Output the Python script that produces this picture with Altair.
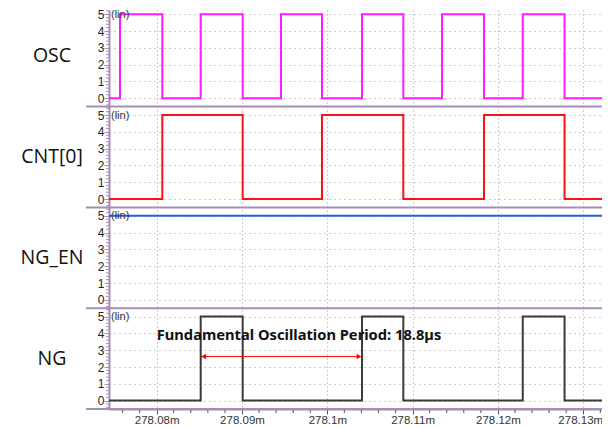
import altair as alt
import pandas as pd

# ---------------- data (time in microseconds, absolute) ----------------
t_start = 278074.41
t_end = 278132.2

signals = ["OSC", "CNT[0]", "NG_EN", "NG"]
colors = ["#ff1aff", "#ff1010", "#1f63d9", "#3a3a3a"]

osc_t = [278074.41, 278075.70, 278080.66, 278085.16, 278090.08, 278094.57, 278099.38,
         278104.07, 278108.91, 278113.45, 278118.37, 278122.91, 278127.81, 278132.32]
osc_v = [0, 5, 0, 5, 0, 5, 0, 5, 0, 5, 0, 5, 0, 5]

cnt_t = [278074.41, 278080.66, 278090.08, 278099.38, 278108.91, 278118.37, 278127.81, 278132.2]
cnt_v = [0, 5, 0, 5, 0, 5, 0, 0]

ngen_t = [278074.41, 278132.2]
ngen_v = [5, 5]

ng_t = [278074.41, 278085.16, 278090.08, 278104.07, 278108.91, 278122.91, 278127.81, 278132.2]
ng_v = [0, 5, 0, 5, 0, 5, 0, 0]

x_major = [278080, 278090, 278100, 278110, 278120, 278130]
y_levels = [0, 1, 2, 3, 4, 5]

annot_text = "Fundamental Oscillation Period: 18.8µs"
period_start = 278085.16
period_end = 278104.07

# ---------------- layout ----------------
W, H = 493, 399
purple = "#a78db5"
panel_offset = {"OSC": 18.5, "CNT[0]": 12.5, "NG_EN": 6.5, "NG": 0.5}
separators = [0, 6, 12, 18]
y_top = 23.75

rows = []
for name, ts, vs in [("OSC", osc_t, osc_v), ("CNT[0]", cnt_t, cnt_v),
                     ("NG_EN", ngen_t, ngen_v), ("NG", ng_t, ng_v)]:
    for t, v in zip(ts, vs):
        rows.append({"signal": name, "t": t, "y": panel_offset[name] + v})
wave = pd.DataFrame(rows)

y_ticks = sorted(panel_offset[s] + l for s in signals for l in y_levels)
y_minor = []
for s in signals:
    for k in range(-2, 28):
        v = panel_offset[s] + k * 0.2
        if 0 <= v <= y_top and k % 5 != 0:
            y_minor.append(round(v, 3))
x_minor = [t for t in range(278076, 278133, 2) if t % 10 != 0]

xscale = alt.Scale(domain=[t_start, t_end], nice=False, zero=False)
yscale = alt.Scale(domain=[0, y_top], nice=False, zero=False)

base_x = alt.X("t:Q", scale=xscale, title=None,
               axis=alt.Axis(values=x_major, tickCount=100,
                             labelExpr="format(datum.value/1000, '.5~r') + 'm'",
                             labelOffset={"condition": {"test": "datum.value > 278125", "value": -3},
                                          "value": 0},
                             grid=True, gridDash=[1, 3], gridColor="#9a9a9a",
                             domainColor=purple, domainWidth=2,
                             tickColor="#555", tickSize=5, tickWidth=1,
                             labelFontSize=11.5, labelColor="#333", labelPadding=0,
                             labelFont="Liberation Sans", labelFlush=False))
base_y = alt.Y("y:Q", scale=yscale, title=None,
               axis=alt.Axis(values=y_ticks, tickCount=100, labelOverlap=False,
                             labelExpr="'' + (floor(datum.value) % 6)",
                             grid=True, gridDash=[1, 4], gridColor="#9a9a9a",
                             domainColor=purple, domainWidth=2,
                             tickColor=purple, tickSize=5, tickWidth=1,
                             labelFontSize=12, labelColor="#222", labelPadding=0,
                             labelFont="Liberation Sans", labelFlush=False))

waves = alt.Chart(wave).mark_line(interpolate="step-after", strokeWidth=2, clip=True).encode(
    x=base_x, y=base_y,
    color=alt.Color("signal:N", scale=alt.Scale(domain=signals, range=colors), legend=None),
    detail="signal:N",
)

X = lambda: alt.X("t:Q", scale=xscale, title=None)
Y = lambda: alt.Y("y:Q", scale=yscale, title=None)

sep = alt.Chart(pd.DataFrame({"y": separators})).mark_rule(color=purple, strokeWidth=2).encode(
    y=Y(), x=alt.value(-23), x2=alt.value(W))

ymin = alt.Chart(pd.DataFrame({"y": y_minor})).mark_rule(color=purple, strokeWidth=1).encode(
    y=Y(), x=alt.value(-3), x2=alt.value(0))

xmin = alt.Chart(pd.DataFrame({"t": x_minor})).mark_rule(color="#555", strokeWidth=1).encode(
    x=X(), y=alt.value(H + 1), y2=alt.value(H + 4))

lin = alt.Chart(pd.DataFrame({"y": [panel_offset[s] + 5 for s in signals],
                              "label": ["(lin)"] * 4})).mark_text(
    align="left", baseline="middle", fontSize=11, color="#333", font="Liberation Sans", dy=0.5).encode(
    x=alt.value(2), y=Y(), text="label:N")

names = alt.Chart(pd.DataFrame({"y": [panel_offset[s] + 2.5 for s in signals],
                                "name": signals})).mark_text(
    align="center", baseline="middle", fontSize=19.5, color="#111", font="Open Sans").encode(
    x=alt.value(-57), y=Y(), text="name:N")

arrow_y = 0.5 + 2.62
arrow = alt.Chart(pd.DataFrame({"t": [period_start], "t2": [period_end], "y": [arrow_y]})).mark_rule(
    color="#ff0000", strokeWidth=1).encode(x=X(), x2="t2:Q", y=Y())
head_l = alt.Chart(pd.DataFrame({"t": [period_start], "y": [arrow_y]})).mark_point(
    shape="triangle-left", filled=True, color="#ff0000", size=30, opacity=1, xOffset=3).encode(x=X(), y=Y())
head_r = alt.Chart(pd.DataFrame({"t": [period_end], "y": [arrow_y]})).mark_point(
    shape="triangle-right", filled=True, color="#ff0000", size=30, opacity=1, xOffset=-3).encode(x=X(), y=Y())

label = alt.Chart(pd.DataFrame({"t": [278080.0], "y": [0.5 + 3.85], "text": [annot_text]})).mark_text(
    align="left", baseline="middle", fontSize=14.7, fontWeight="bold", color="#111", font="Noto Sans").encode(
    x=X(), y=Y(), text="text:N")

chart = alt.layer(waves, sep, ymin, xmin, lin, names, arrow, head_l, head_r, label).properties(
    width=W, height=H,
    autosize=alt.AutoSizeParams(type="none"),
    padding={"left": 101, "top": 2, "right": 0, "bottom": 18},
).configure_view(stroke=None)

chart.save("out.html", embed_options={"renderer": "svg", "actions": False})
